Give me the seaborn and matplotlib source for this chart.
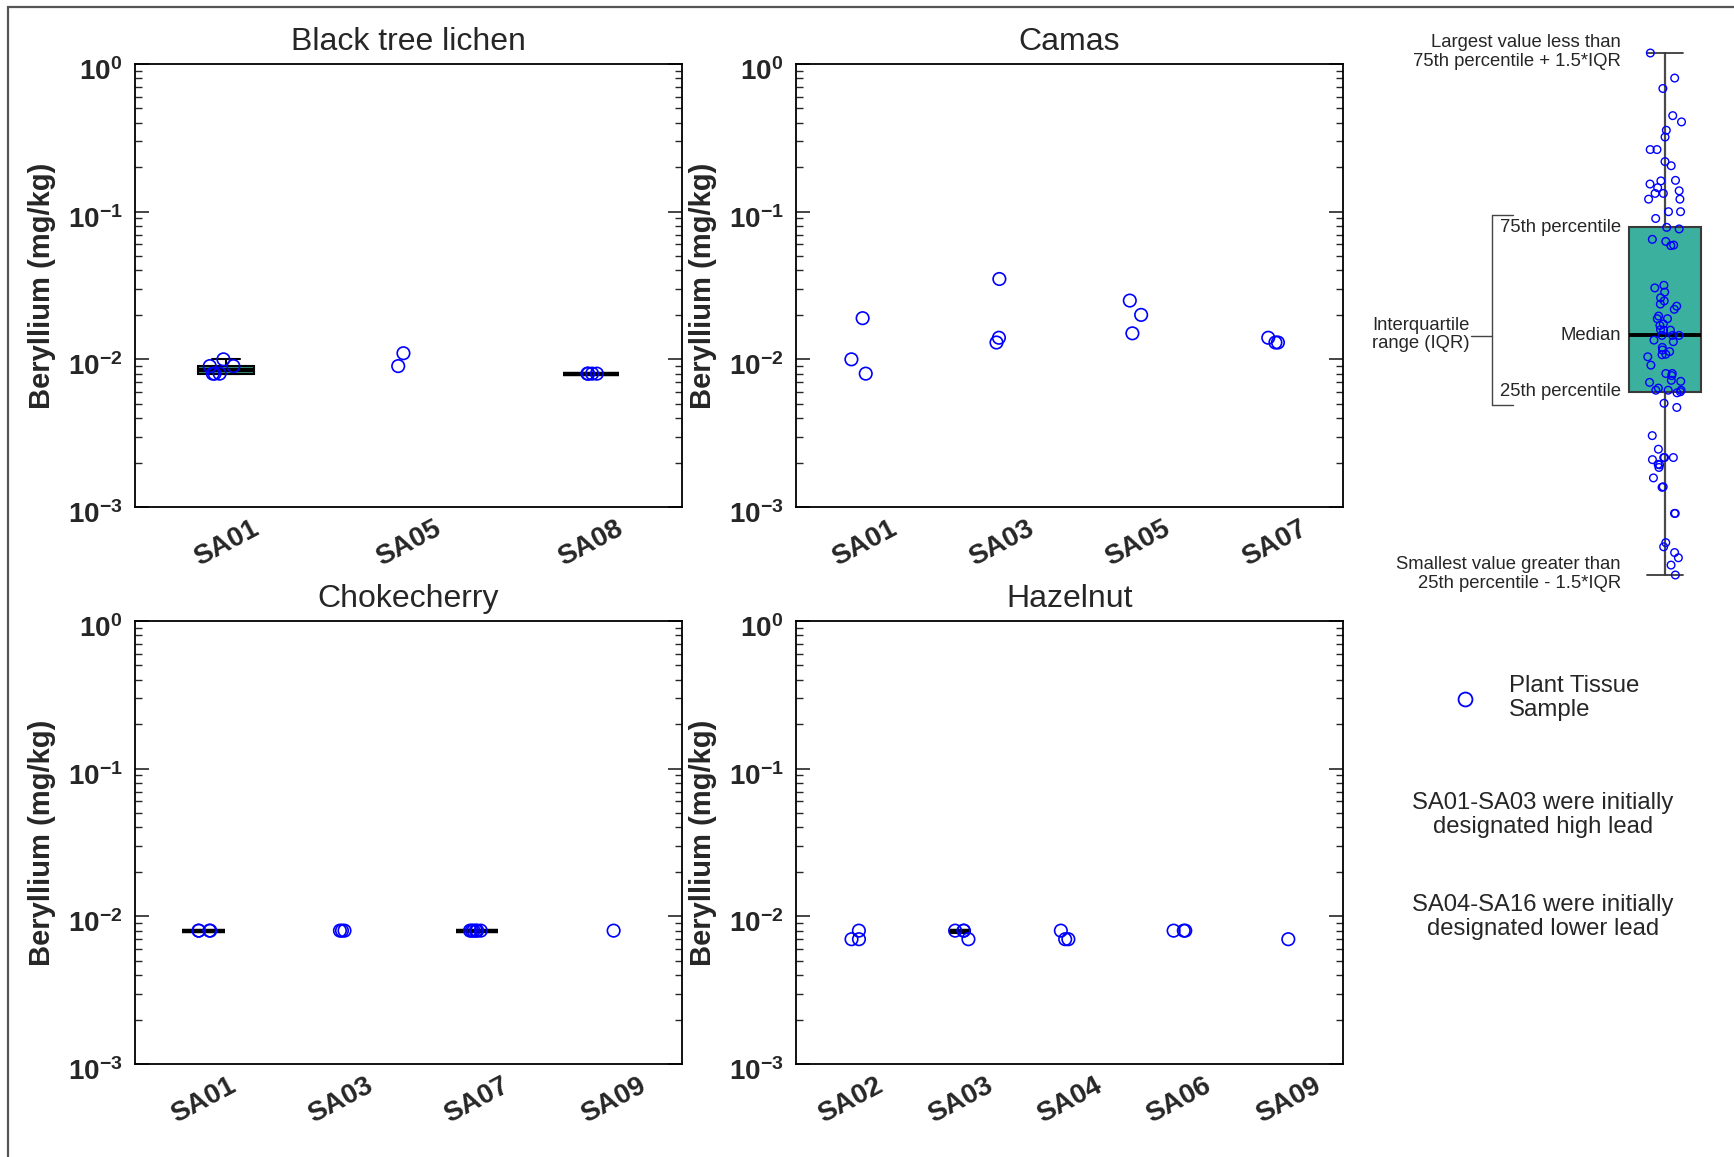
import numpy as np
import pandas as pd
import matplotlib
matplotlib.use("Agg")
import matplotlib.pyplot as plt
import matplotlib.transforms as mtransforms
import seaborn as sns
from matplotlib.patches import Rectangle
from matplotlib.lines import Line2D
from matplotlib.ticker import LogLocator, FuncFormatter, NullFormatter

sns.set_style("ticks")
plt.rcParams["font.family"] = ["Liberation Sans", "DejaVu Sans"]
plt.rcParams["mathtext.fontset"] = "custom"
plt.rcParams["mathtext.rm"] = "Liberation Sans:bold"
plt.rcParams["mathtext.bf"] = "Liberation Sans:bold"

# ---------------- data ----------------
lichen_order = ["SA01", "SA05", "SA08"]
lichen_sites = ["SA01", "SA01", "SA01", "SA01", "SA01", "SA01",
                "SA05", "SA05",
                "SA08", "SA08", "SA08", "SA08"]
lichen_be = [0.010, 0.009, 0.009, 0.008, 0.008, 0.008,
             0.009, 0.011,
             0.008, 0.008, 0.008, 0.008]

camas_order = ["SA01", "SA03", "SA05", "SA07"]
camas_sites = ["SA01", "SA01", "SA01", "SA03", "SA03", "SA03",
               "SA05", "SA05", "SA05", "SA07", "SA07", "SA07"]
camas_be = [0.019, 0.010, 0.008, 0.035, 0.014, 0.013,
            0.025, 0.020, 0.015, 0.014, 0.013, 0.013]

choke_order = ["SA01", "SA03", "SA07", "SA09"]
choke_sites = ["SA01", "SA01", "SA01", "SA01",
               "SA03", "SA03", "SA03",
               "SA07", "SA07", "SA07", "SA07", "SA07", "SA07",
               "SA09"]
choke_be = [0.008, 0.008, 0.008, 0.008,
            0.008, 0.008, 0.008,
            0.008, 0.008, 0.008, 0.008, 0.008, 0.008,
            0.008]

hazel_order = ["SA02", "SA03", "SA04", "SA06", "SA09"]
hazel_sites = ["SA02", "SA02", "SA02",
               "SA03", "SA03", "SA03", "SA03",
               "SA04", "SA04", "SA04",
               "SA06", "SA06", "SA06",
               "SA09"]
hazel_be = [0.008, 0.007, 0.007,
            0.008, 0.008, 0.008, 0.007,
            0.008, 0.007, 0.007,
            0.008, 0.008, 0.008,
            0.007]

# illustrative key box plot (arbitrary units, 0-100)
key_values = [100.0, 95.2, 93.2, 88.0, 86.8, 85.2, 83.9, 81.5, 81.5, 79.2, 78.4,
              75.6, 75.5, 74.9, 74.2, 73.6, 73.1, 73.1, 72.0, 72.0, 69.6, 69.6,
              68.3, 66.6, 66.3, 64.3, 63.9, 63.2, 63.1, 55.5, 55.0, 54.2, 53.1,
              52.5, 51.9, 51.5, 50.9, 49.6, 49.1, 49.1, 48.1, 47.8, 46.9, 47.0,
              46.9, 45.9, 45.9, 45.9, 45.0, 44.7, 43.6, 43.1, 42.8, 42.3, 42.2,
              41.8, 40.2, 38.6, 38.6, 38.2, 37.1, 37.3, 36.9, 35.8, 35.4, 35.4,
              35.4, 35.1, 34.9, 32.9, 32.1, 26.7, 24.1, 22.5, 22.5, 22.5, 22.1,
              21.1, 20.6, 21.2, 18.6, 16.8, 16.9, 11.8, 11.8, 6.2, 5.4, 4.3,
              3.3, 1.9, 0.0]
key_stats = {"q1": 35.1, "med": 45.9, "q3": 66.6, "whislo": 0.0, "whishi": 100.0}

TEAL = "#3BB09E"
BLUE = "#0000FF"

W, H = 1734, 1157
fig = plt.figure(figsize=(W / 100, H / 100), dpi=100)


def fx(x):
    return x / W


def fy(y):
    return 1 - y / H


def log_fmt(v, pos):
    e = int(round(np.log10(v)))
    return r"$\mathbf{10^{%d}}$" % e


def panel(rect, sites, vals, order, title, box_w, jit, seed):
    ax = fig.add_axes(rect)
    df = pd.DataFrame({"site": sites, "be": vals})
    counts = df["site"].map(df["site"].value_counts())
    boxdf = df[counts >= 4]
    sns.boxplot(data=boxdf, x="site", y="be", order=order, ax=ax, width=box_w,
                color=TEAL, saturation=1, linecolor="black", linewidth=1.5,
                showfliers=False, log_scale=True,
                medianprops={"linewidth": 3.2, "color": "black"})
    np.random.seed(seed)
    sns.stripplot(data=df, x="site", y="be", order=order, ax=ax, jitter=jit,
                  size=9, color=BLUE, log_scale=True, zorder=5)
    for coll in ax.collections:
        coll.set_facecolor("none")
        coll.set_edgecolor(BLUE)
        coll.set_linewidth(1.2)
    ax.set_ylim(1e-3, 1)
    ax.set_xlim(-0.5, len(order) - 0.5)
    ax.set_xlabel("")
    ax.set_ylabel("Beryllium (mg/kg)", fontsize=21, fontweight="bold")
    ax.yaxis.set_label_coords(-0.145, 0.5)
    ax.set_title(title, fontsize=23, pad=10)
    ax.yaxis.set_major_locator(LogLocator(base=10, numticks=10))
    ax.yaxis.set_minor_locator(LogLocator(base=10, subs=np.arange(2, 10), numticks=10))
    ax.yaxis.set_major_formatter(FuncFormatter(log_fmt))
    ax.yaxis.set_minor_formatter(NullFormatter())
    ax.tick_params(axis="y", which="both", direction="in", left=True, right=True)
    ax.tick_params(axis="y", which="major", length=10, width=1.2, labelsize=20, pad=9)
    ax.tick_params(axis="y", which="minor", length=5, width=1.0)
    ax.tick_params(axis="x", length=0, labelsize=20, pad=6)
    for lab in ax.get_xticklabels():
        lab.set_rotation(28)
        lab.set_fontweight("bold")
    shift = mtransforms.ScaledTranslation(0, -0.05, fig.dpi_scale_trans)
    for lab in ax.get_yticklabels():
        lab.set_transform(lab.get_transform() + shift)
    for s in ax.spines.values():
        s.set_visible(True)
        s.set_linewidth(1.3)
        s.set_color("black")
    return ax


x_left, x_right = fx(135), fx(796)
pw = 547 / W
ph = 443 / H
y_top, y_bot = fy(507), fy(1064)

panel([x_left, y_top, pw, ph], lichen_sites, lichen_be, lichen_order, "Black tree lichen", 0.31, 0.09, 1)
panel([x_right, y_top, pw, ph], camas_sites, camas_be, camas_order, "Camas", 0.31, 0.1, 2)
panel([x_left, y_bot, pw, ph], choke_sites, choke_be, choke_order, "Chokecherry", 0.31, 0.06, 5)
panel([x_right, y_bot, pw, ph], hazel_sites, hazel_be, hazel_order, "Hazelnut", 0.18, 0.08, 4)

# ---------------- key (illustrative box plot) ----------------
top_w, bot_w = 53, 575
kax = fig.add_axes([fx(1629), fy(bot_w), 72 / W, (bot_w - top_w) / H])
stats = dict(key_stats)
kax.bxp([stats], positions=[0], widths=[1.0], showfliers=False, patch_artist=True,
        boxprops={"facecolor": TEAL, "edgecolor": "#3a3a3a", "linewidth": 1.5},
        whiskerprops={"color": "#4a4a4a", "linewidth": 1.6},
        capprops={"color": "#3a3a3a", "linewidth": 1.3},
        medianprops={"color": "black", "linewidth": 2.8})
for art in kax.lines + kax.patches:
    art.set_clip_on(False)
np.random.seed(7)
sns.stripplot(y=key_values, ax=kax, jitter=0.24, size=5.5, color=BLUE, zorder=5)
for coll in kax.collections:
    coll.set_facecolor("none")
    coll.set_edgecolor(BLUE)
    coll.set_linewidth(1.0)
    coll.set_clip_on(False)
kax.set_xlim(-0.5, 0.5)
kax.set_ylim(0, 100)
kax.axis("off")

ks = 13.3
fig.text(fx(1621), fy(52), "Largest value less than\n75th percentile + 1.5*IQR",
         ha="right", va="center", fontsize=ks, linespacing=1.15)
fig.text(fx(1621), fy(227), "75th percentile", ha="right", va="center", fontsize=ks)
fig.text(fx(1621), fy(335), "Median", ha="right", va="center", fontsize=ks)
fig.text(fx(1621), fy(392), "25th percentile", ha="right", va="center", fontsize=ks)
fig.text(fx(1372), fy(334.5), "Interquartile\nrange (IQR)", ha="left", va="center",
         fontsize=ks, linespacing=1.15)
fig.text(fx(1621), fy(574), "Smallest value greater than\n25th percentile - 1.5*IQR",
         ha="right", va="center", fontsize=ks, linespacing=1.15)

bc = "#444444"
for (x0, y0, x1, y1) in [(1492, 214.5, 1492, 405), (1492, 214.5, 1513, 214.5),
                         (1492, 405, 1513, 405), (1471, 336, 1492, 336)]:
    fig.add_artist(Line2D([fx(x0), fx(x1)], [fy(y0), fy(y1)], color=bc, lw=1.0))

# lower key
fig.add_artist(Line2D([fx(1465)], [fy(699)], marker="o", markersize=10,
                      markerfacecolor="none", markeredgecolor=BLUE, markeredgewidth=1.3,
                      linestyle="none"))
fig.text(fx(1509), fy(698), "Plant Tissue\nSample", ha="left", va="center",
         fontsize=17.3, linespacing=1.1)
fig.text(fx(1543), fy(815), "SA01-SA03 were initially\ndesignated high lead",
         ha="center", va="center", fontsize=17.2, linespacing=1.1)
fig.text(fx(1543), fy(917), "SA04-SA16 were initially\ndesignated lower lead",
         ha="center", va="center", fontsize=17.2, linespacing=1.1)

# figure frame
fig.add_artist(Rectangle((fx(8), -0.05), 1.1, fy(7) + 0.05, fill=False,
                         edgecolor="#555555", linewidth=1.6, transform=fig.transFigure))

fig.savefig("out.png", dpi=100)
